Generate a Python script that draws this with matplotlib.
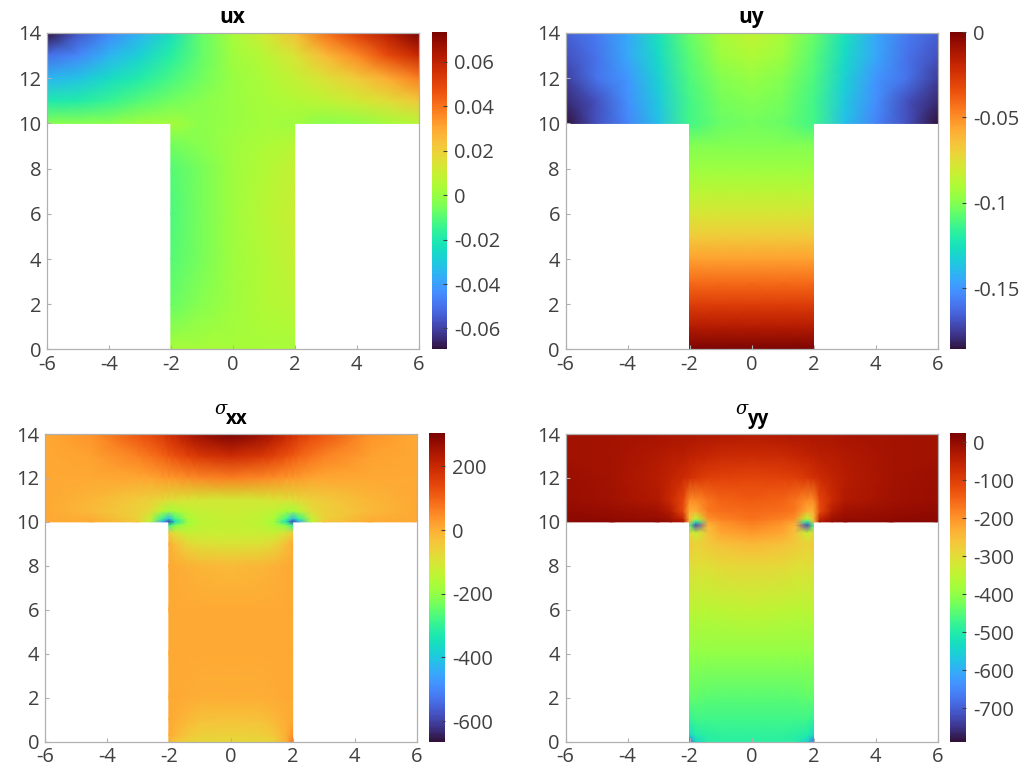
import numpy as np
import matplotlib
matplotlib.use("Agg")
import matplotlib.pyplot as plt

plt.rcParams['font.family'] = ['Open Sans', 'DejaVu Sans']
plt.rcParams['axes.unicode_minus'] = False

# nodes for the displacement plots
u_top_x = [-6, -5, -4, -3, -2, -1, 0, 1, 2, 3, 4, 5, 6]
u_top_y = [10, 11, 12, 13, 14]
u_stem_x = [-2, -1, 0, 1, 2]
ux_stem_y = [0, 2, 4, 6, 8, 9, 10]
uy_stem_y = [0, 1, 2, 3, 4, 5, 6, 7, 8, 9, 10]

ux_top = [
    [-0.003, -0.003, -0.002, 0.001, 0.002, -0.002, 0.000, 0.002, 0.001, -0.002, -0.001, 0.002, 0.006],
    [-0.020, -0.019, -0.015, -0.010, -0.006, -0.003, 0.000, 0.003, 0.005, 0.008, 0.012, 0.016, 0.022],
    [-0.035, -0.032, -0.025, -0.019, -0.012, -0.006, 0.000, 0.004, 0.009, 0.015, 0.021, 0.029, 0.038],
    [-0.050, -0.045, -0.035, -0.028, -0.018, -0.008, 0.001, 0.006, 0.014, 0.026, 0.036, 0.048, 0.058],
    [-0.0695, -0.056, -0.045, -0.035, -0.024, -0.008, 0.003, 0.012, 0.024, 0.040, 0.052, 0.062, 0.0735],
]
ux_stem = [
    [0.003, 0.003, 0.003, 0.003, 0.003],
    [-0.007, -0.003, 0.001, 0.005, 0.007],
    [-0.010, -0.005, 0.001, 0.005, 0.009],
    [-0.011, -0.005, 0.001, 0.006, 0.010],
    [-0.010, -0.005, 0.001, 0.005, 0.009],
    [-0.006, -0.003, 0.001, 0.004, 0.006],
    [0.002, -0.002, 0.000, 0.002, 0.001],
]

uy_top = [
    [-0.186, -0.170, -0.155, -0.138, -0.112, -0.105, -0.103, -0.105, -0.112, -0.138, -0.155, -0.170, -0.186],
    [-0.180, -0.170, -0.152, -0.135, -0.112, -0.103, -0.100, -0.103, -0.112, -0.135, -0.152, -0.170, -0.180],
    [-0.175, -0.160, -0.150, -0.132, -0.110, -0.100, -0.096, -0.100, -0.110, -0.132, -0.150, -0.160, -0.175],
    [-0.170, -0.160, -0.145, -0.128, -0.108, -0.095, -0.090, -0.095, -0.108, -0.128, -0.145, -0.160, -0.170],
    [-0.165, -0.158, -0.145, -0.125, -0.105, -0.092, -0.085, -0.092, -0.105, -0.125, -0.145, -0.158, -0.165],
]
uy_stem = [
    [0.000, 0.000, 0.000, 0.000, 0.000],
    [-0.014, -0.014, -0.014, -0.014, -0.014],
    [-0.028, -0.028, -0.028, -0.028, -0.028],
    [-0.042, -0.042, -0.042, -0.042, -0.042],
    [-0.055, -0.055, -0.055, -0.055, -0.055],
    [-0.068, -0.068, -0.068, -0.068, -0.068],
    [-0.078, -0.078, -0.078, -0.078, -0.078],
    [-0.087, -0.087, -0.087, -0.087, -0.087],
    [-0.095, -0.095, -0.095, -0.095, -0.095],
    [-0.100, -0.100, -0.100, -0.100, -0.100],
    [-0.112, -0.105, -0.103, -0.105, -0.112],
]

# nodes for the stress plots, finer round the corners
s_top_x = [-6, -4.5, -3, -2.6, -2.2, -2, -1.8, -1.4, -1, 0, 1, 1.4, 1.8, 2, 2.2, 2.6, 3, 4.5, 6]
s_top_y = [10, 10.15, 10.5, 11, 12, 13, 14]
s_stem_x = [-2, -1.8, -1.4, -1, 0, 1, 1.4, 1.8, 2]
s_stem_y = [0, 0.3, 1, 2, 4, 6, 8, 9, 9.5, 9.85, 10]

sxx_top = [
    [8, 5, -40, -150, -450, -600, -350, -180, -145, -130, -145, -180, -350, -600, -450, -150, -40, 5, 8],
    [8, 0, -60, -130, -300, -420, -280, -170, -140, -125, -140, -170, -280, -420, -300, -130, -60, 0, 8],
    [8, -20, -60, -80, -150, -180, -170, -140, -130, -120, -130, -140, -170, -180, -150, -80, -60, -20, 8],
    [8, -10, -50, -60, -75, -85, -90, -100, -105, -110, -105, -100, -90, -85, -75, -60, -50, -10, 8],
    [8, 8, 10, 15, 25, 30, 35, 45, 55, 65, 55, 45, 35, 30, 25, 15, 10, 8, 8],
    [8, 20, 60, 80, 100, 115, 125, 150, 170, 195, 170, 150, 125, 115, 100, 80, 60, 20, 8],
    [8, 40, 120, 140, 170, 190, 205, 240, 270, 305, 270, 240, 205, 190, 170, 140, 120, 40, 8],
]
sxx_stem = [
    [-20, -40, -60, -70, -75, -70, -60, 0, 80],
    [8, -10, -40, -55, -60, -55, -40, 0, 40],
    [8, 0, -15, -30, -35, -30, -15, 0, 8],
    [8, 8, 5, 2, 0, 2, 5, 8, 8],
    [8, 8, 8, 8, 8, 8, 8, 8, 8],
    [8, 8, 8, 8, 8, 8, 8, 8, 8],
    [8, 5, -5, -12, -20, -12, -5, 5, 8],
    [0, -25, -70, -90, -100, -90, -70, -25, 0],
    [-50, -90, -130, -125, -125, -125, -130, -90, -50],
    [-300, -220, -170, -140, -130, -140, -170, -220, -300],
    [-600, -350, -180, -145, -130, -145, -180, -350, -600],
]

syy_top = [
    [10, 10, 5, -5, -30, -250, -500, -215, -195, -175, -195, -215, -500, -250, -30, -5, 5, 10, 10],
    [5, 0, -5, -15, -60, -250, -350, -195, -180, -165, -180, -195, -350, -250, -60, -15, -5, 0, 5],
    [0, -5, -15, -40, -120, -230, -230, -170, -160, -155, -160, -170, -230, -230, -120, -40, -15, -5, 0],
    [-5, -15, -35, -65, -110, -190, -190, -165, -150, -140, -150, -165, -190, -190, -110, -65, -35, -15, -5],
    [-10, -20, -40, -55, -70, -80, -90, -100, -105, -110, -105, -100, -90, -80, -70, -55, -40, -20, -10],
    [-15, -20, -35, -40, -45, -50, -55, -60, -65, -70, -65, -60, -55, -50, -45, -40, -35, -20, -15],
    [-15, -18, -22, -24, -25, -26, -27, -29, -31, -35, -31, -29, -27, -26, -25, -24, -22, -18, -15],
]
syy_stem = [
    [-680, -540, -495, -490, -490, -490, -495, -540, -680],
    [-540, -500, -490, -485, -485, -485, -490, -500, -540],
    [-480, -470, -470, -470, -470, -470, -470, -470, -480],
    [-440, -440, -445, -445, -445, -445, -445, -440, -440],
    [-400, -400, -400, -400, -400, -400, -400, -400, -400],
    [-350, -355, -355, -350, -345, -350, -355, -355, -350],
    [-300, -305, -305, -295, -290, -295, -305, -305, -300],
    [-270, -285, -270, -255, -245, -255, -270, -285, -270],
    [-300, -340, -255, -220, -205, -220, -255, -340, -300],
    [-450, -720, -240, -205, -185, -205, -240, -720, -450],
    [-250, -500, -215, -195, -175, -195, -215, -500, -250],
]

x_ticks = [-6, -4, -2, 0, 2, 4, 6]
y_ticks = [0, 2, 4, 6, 8, 10, 12, 14]
ux_cticks = [-0.06, -0.04, -0.02, 0, 0.02, 0.04, 0.06]
ux_clabels = ['-0.06', '-0.04', '-0.02', '0', '0.02', '0.04', '0.06']
uy_cticks = [-0.15, -0.1, -0.05, 0]
uy_clabels = ['-0.15', '-0.1', '-0.05', '0']
sxx_cticks = [-600, -400, -200, 0, 200]
syy_cticks = [-700, -600, -500, -400, -300, -200, -100, 0]

W, H = 1024.0, 780.0
GREY = '#b0b0b0'
TXT = '#404040'


def panel(box, cbox, title, top, stem, lims, cticks, clabels=None, sigma=False):
    # boxes are in pixels: left, right, top, bottom
    ax = fig.add_axes([box[0] / W, 1 - box[3] / H, (box[1] - box[0]) / W, (box[3] - box[2]) / H])
    tx, ty, tz = top
    sx, sy, sz = stem
    m = ax.pcolormesh(tx, ty, np.array(tz), shading='gouraud', cmap='turbo', vmin=lims[0], vmax=lims[1])
    ax.pcolormesh(sx, sy, np.array(sz), shading='gouraud', cmap='turbo', vmin=lims[0], vmax=lims[1])
    ax.set_xlim(-6, 6)
    ax.set_ylim(0, 14)
    ax.set_xticks(x_ticks)
    ax.set_yticks(y_ticks)
    ax.tick_params(direction='in', length=3, width=0.8, color=GREY, labelsize=14.5, labelcolor=TXT, pad=4)
    for s in ax.spines.values():
        s.set_color(GREY)
        s.set_linewidth(0.9)

    if sigma:
        # sigma and its bold subscript sit apart in the original, so two texts
        ax.annotate('\u03c3', xy=(0.5, 1), xycoords='axes fraction', xytext=(-10, 20),
                    textcoords='offset pixels', ha='center', va='baseline',
                    fontsize=13, style='italic', family='DejaVu Serif', color='black')
        ax.annotate(title, xy=(0.5, 1), xycoords='axes fraction', xytext=(6, 10),
                    textcoords='offset pixels', ha='center', va='baseline',
                    fontsize=13.5, fontweight='bold', color='black')
    else:
        ax.set_title(title, fontsize=15, fontweight='bold', color='black', pad=7)

    cax = fig.add_axes([cbox[0] / W, 1 - cbox[3] / H, (cbox[1] - cbox[0]) / W, (cbox[3] - cbox[2]) / H])
    cb = fig.colorbar(m, cax=cax)
    cb.set_ticks(cticks)
    if clabels:
        cb.set_ticklabels(clabels)
    cb.outline.set_visible(False)
    cax.tick_params(direction='in', length=3, width=0.8, color='#404040', labelsize=14.5, labelcolor=TXT, pad=5)


fig = plt.figure(figsize=(10.24, 7.8), dpi=100)

panel((47, 418.5, 33, 349.5), (432, 447, 32, 349.5), 'ux',
      (u_top_x, u_top_y, ux_top), (u_stem_x, ux_stem_y, ux_stem),
      (-0.0695, 0.0735), ux_cticks, ux_clabels)
panel((565.5, 937.5, 33, 349.5), (950, 966, 32, 349.5), 'uy',
      (u_top_x, u_top_y, uy_top), (u_stem_x, uy_stem_y, uy_stem),
      (-0.186, 0), uy_cticks, uy_clabels)
panel((45, 416.5, 434, 741.5), (429, 445, 433, 741.5), 'xx',
      (s_top_x, s_top_y, sxx_top), (s_stem_x, s_stem_y, sxx_stem),
      (-664, 305), sxx_cticks, sigma=True)
panel((565.5, 937.5, 434, 741.5), (950, 966, 433, 741.5), 'yy',
      (s_top_x, s_top_y, syy_top), (s_stem_x, s_stem_y, syy_stem),
      (-787, 24), syy_cticks, sigma=True)

fig.savefig('out.png', dpi=100)
